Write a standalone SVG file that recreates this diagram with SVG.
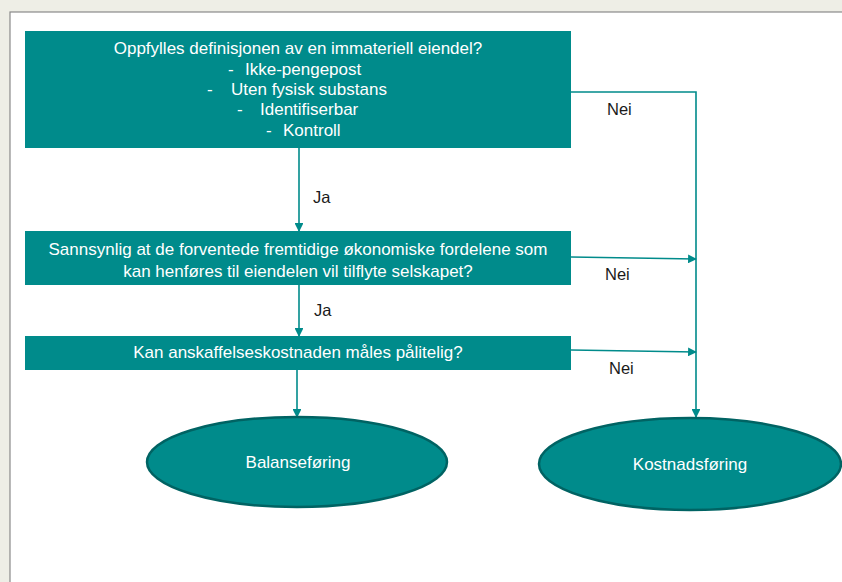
<svg xmlns="http://www.w3.org/2000/svg" width="842" height="582" viewBox="0 0 842 582">
<defs>
<style>
.box{fill:#008B8B;}
.ell{fill:#008B8B;stroke:#006363;stroke-width:2.5;}
.wt{font-family:"Liberation Sans",Arial,sans-serif;font-size:17px;fill:#FFFFFF;}
.lbl{font-family:"Liberation Sans",Arial,sans-serif;font-size:16.5px;fill:#1A1A1A;}
.con{stroke:#008B8B;stroke-width:1.6;fill:none;marker-end:url(#arr);}
</style>
<marker id="arr" viewBox="0 0 10 10" refX="9" refY="5" markerWidth="5.5" markerHeight="5.5" orient="auto" markerUnits="strokeWidth">
<path d="M0,0 L10,5 L0,10 z" fill="#008B8B"/>
</marker>
</defs>
<rect x="0" y="0" width="842" height="582" fill="#EEEEE6"/>
<rect x="10" y="12" width="840" height="580" fill="#FFFFFF" stroke="#8A8A8A" stroke-width="1.2"/>
<g id="connectors">
<path class="con" d="M299,148 V231"/>
<path class="con" d="M299,285 V336"/>
<path class="con" d="M297,370 V417"/>
<path class="con" d="M571,92 H696 V417"/>
<path class="con" d="M571,257 L696,259"/>
<path class="con" d="M571,350 L696,352"/>
<text class="lbl" x="313" y="203">Ja</text>
<text class="lbl" x="314" y="316">Ja</text>
<text class="lbl" x="607" y="115">Nei</text>
<text class="lbl" x="605" y="280">Nei</text>
<text class="lbl" x="609" y="374">Nei</text>
</g>
<g id="node1">
<rect class="box" x="25" y="31" width="546" height="117"/>
<text class="wt" x="298" y="54" text-anchor="middle">Oppfylles definisjonen av en immateriell eiendel?</text>
<text class="wt" x="228" y="75">-</text><text class="wt" x="245" y="75">Ikke-pengepost</text>
<text class="wt" x="207" y="95">-</text><text class="wt" x="231" y="95">Uten fysisk substans</text>
<text class="wt" x="237" y="115">-</text><text class="wt" x="260" y="115">Identifiserbar</text>
<text class="wt" x="266" y="136">-</text><text class="wt" x="283" y="136">Kontroll</text>
</g>
<g id="node2">
<rect class="box" x="25" y="231" width="546" height="54"/>
<text class="wt" x="298" y="255" text-anchor="middle">Sannsynlig at de forventede fremtidige økonomiske fordelene som</text>
<text class="wt" x="298" y="277" text-anchor="middle">kan henføres til eiendelen vil tilflyte selskapet?</text>
</g>
<g id="node3">
<rect class="box" x="25" y="336" width="546" height="34"/>
<text class="wt" x="298" y="358" text-anchor="middle">Kan anskaffelseskostnaden måles pålitelig?</text>
</g>
<g id="node4">
<ellipse class="ell" cx="297" cy="462" rx="150" ry="45"/>
<text class="wt" x="298" y="468" text-anchor="middle">Balanseføring</text>
</g>
<g id="node5">
<ellipse class="ell" cx="690" cy="464" rx="151" ry="46"/>
<text class="wt" x="690" y="470" text-anchor="middle">Kostnadsføring</text>
</g>
</svg>
